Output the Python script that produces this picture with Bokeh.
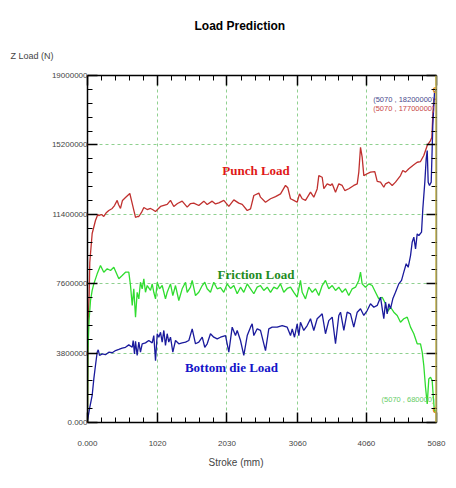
from bokeh.plotting import figure
from bokeh.models import Range1d, FixedTicker, LinearAxis, Label, Span, Title
from bokeh.embed import file_html
from bokeh.resources import INLINE

# Stroke positions (mm) and loads (N, in millions) for each load curve
punch_x = [0, 10, 25, 33, 68, 116, 150, 164, 204, 237, 277, 310, 360, 393, 432, 451, 480, 509,
           553, 616, 640, 699, 728, 747, 786, 820, 869, 917, 946, 990, 1063, 1160, 1208, 1256,
           1310, 1378, 1451, 1500, 1547, 1620, 1693, 1742, 1815, 1863, 1911, 1984, 2057, 2130,
           2202, 2252, 2325, 2373, 2421, 2494, 2518, 2591, 2664, 2737, 2810, 2882, 2916, 2955,
           3003, 3052, 3086, 3125, 3173, 3246, 3294, 3343, 3367, 3416, 3440, 3489, 3537, 3562,
           3610, 3658, 3707, 3745, 3803, 3876, 3926, 3949, 3974, 3998, 4022, 4071, 4119, 4182,
           4217, 4265, 4313, 4338, 4386, 4435, 4483, 4556, 4589, 4629, 4677, 4750, 4799, 4847,
           4895, 4945, 4993, 5012, 5026, 5041, 5070]
punch_m = [0, 5.58, 7.06, 8.76, 10.35, 11.06, 11.39, 11.33, 11.39, 11.28, 11.50, 11.61, 11.72,
           11.88, 12.16, 11.94, 11.72, 12.16, 12.32, 12.54, 12.16, 11.23, 11.28, 11.28, 11.50,
           11.77, 11.66, 11.72, 11.66, 11.55, 11.83, 11.94, 12.16, 11.83, 11.99, 12.12, 11.79,
           11.99, 12.01, 11.88, 12.12, 11.94, 12.12, 11.97, 12.03, 12.16, 11.83, 12.19, 12.01,
           11.94, 11.61, 11.70, 12.43, 12.56, 12.34, 12.06, 12.25, 12.37, 12.52, 12.98, 12.85,
           12.25, 12.16, 12.06, 12.52, 12.25, 12.16, 12.61, 12.34, 12.79, 13.52, 13.43, 12.80,
           13.07, 12.98, 13.07, 12.61, 13.07, 12.98, 12.70, 12.80, 12.98, 13.07, 13.71, 15.07,
           14.53, 13.52, 13.62, 13.71, 13.74, 13.20, 13.16, 12.88, 13.07, 13.16, 12.98, 13.16,
           13.52, 13.80, 13.71, 13.89, 14.11, 14.25, 14.29, 14.62, 15.17, 15.44, 15.61, 16.80,
           17.70, 17.70]

friction_x = [0, 7, 22, 44, 68, 92, 141, 189, 237, 287, 335, 383, 456, 505, 553, 601, 626, 651,
              674, 699, 723, 747, 771, 796, 820, 844, 869, 917, 942, 965, 990, 1015, 1048, 1087,
              1135, 1160, 1208, 1242, 1281, 1329, 1378, 1427, 1451, 1499, 1524, 1572, 1620,
              1670, 1707, 1742, 1790, 1838, 1888, 1936, 1984, 2033, 2082, 2130, 2179, 2227,
              2275, 2325, 2373, 2421, 2470, 2518, 2566, 2616, 2664, 2712, 2761, 2809, 2857,
              2907, 2955, 3003, 3052, 3100, 3125, 3173, 3221, 3271, 3319, 3367, 3416, 3464,
              3512, 3562, 3610, 3658, 3707, 3756, 3803, 3853, 3901, 3949, 3974, 3998, 4046,
              4095, 4144, 4192, 4240, 4290, 4338, 4362, 4411, 4459, 4508, 4556, 4604, 4654,
              4702, 4750, 4799, 4847, 4872, 4895, 4920, 4945, 4968, 4993, 5017, 5032, 5051, 5070]
friction_m = [0, 3.94, 5.58, 6.68, 7.23, 7.59, 8.14, 8.60, 8.23, 8.42, 8.32, 8.50, 7.87, 8.05,
              8.23, 8.23, 7.50, 6.41, 7.32, 5.77, 7.13, 6.77, 7.68, 7.32, 7.87, 7.13, 7.50,
              7.23, 7.59, 7.13, 6.77, 7.68, 7.32, 7.50, 6.77, 7.13, 7.59, 6.95, 7.50, 6.68,
              7.32, 7.68, 7.13, 7.41, 7.78, 6.95, 7.13, 7.50, 7.68, 7.32, 7.13, 7.68, 7.32,
              7.39, 7.13, 7.59, 7.34, 7.50, 7.05, 7.41, 7.13, 7.59, 7.32, 7.05, 7.41, 7.50,
              7.23, 7.41, 7.13, 7.41, 7.32, 7.59, 7.13, 7.34, 7.41, 7.13, 6.86, 7.78, 7.13,
              6.77, 7.41, 7.13, 7.32, 6.95, 7.50, 7.78, 7.32, 7.50, 7.23, 7.41, 7.13, 7.32,
              6.95, 7.32, 7.41, 7.78, 8.23, 7.59, 7.41, 7.59, 7.50, 7.13, 6.77, 6.86, 6.50,
              6.04, 6.31, 6.04, 5.86, 5.49, 5.68, 5.77, 5.22, 4.86, 4.31, 4.31, 3.85, 3.12,
              1.93, 1.02, 2.39, 2.48, 2.30, 1.48, 0.56, 0.68]

bottom_x = [0, 29, 68, 92, 116, 141, 156, 175, 214, 262, 310, 360, 408, 456, 505, 553, 601, 651,
            665, 684, 699, 723, 747, 771, 796, 844, 892, 942, 965, 990, 1015, 1038, 1063, 1087,
            1111, 1135, 1160, 1183, 1208, 1242, 1281, 1329, 1378, 1427, 1475, 1524, 1572, 1620,
            1670, 1707, 1742, 1790, 1838, 1888, 1936, 2009, 2057, 2106, 2154, 2179, 2227, 2275,
            2325, 2373, 2397, 2421, 2470, 2518, 2591, 2639, 2688, 2761, 2834, 2907, 2955, 2980,
            3013, 3052, 3076, 3100, 3148, 3198, 3246, 3294, 3343, 3392, 3416, 3464, 3512, 3562,
            3610, 3658, 3683, 3731, 3780, 3828, 3876, 3926, 3974, 4022, 4071, 4119, 4168, 4217,
            4265, 4290, 4313, 4338, 4362, 4386, 4411, 4444, 4483, 4531, 4571, 4604, 4639, 4668,
            4702, 4726, 4750, 4775, 4799, 4823, 4862, 4881, 4910, 4930, 4945, 4959, 4978, 5003,
            5017, 5026, 5041, 5051, 5070]
bottom_m = [0.1, 0.75, 1.48, 2.39, 3.12, 3.85, 3.98, 3.67, 3.76, 3.71, 3.85, 3.82, 3.94, 4.00,
            4.07, 4.12, 4.25, 4.12, 4.49, 3.76, 4.44, 3.67, 4.40, 3.85, 4.31, 4.36, 4.49, 4.36,
            4.76, 3.39, 4.86, 4.67, 4.94, 4.40, 5.04, 4.22, 4.86, 4.40, 4.67, 3.85, 4.49, 4.31,
            4.36, 4.40, 4.49, 5.13, 4.31, 4.40, 4.67, 4.12, 4.31, 4.86, 4.67, 4.58, 4.67, 4.76,
            3.85, 5.22, 4.76, 5.04, 4.49, 3.67, 4.76, 5.22, 5.40, 4.76, 5.13, 5.04, 3.94, 5.13,
            5.22, 5.22, 5.31, 5.22, 4.76, 5.13, 4.67, 5.40, 4.76, 5.49, 5.04, 5.31, 5.68, 5.04,
            5.68, 5.86, 5.95, 4.86, 5.58, 5.77, 4.31, 5.86, 6.04, 5.04, 6.04, 5.95, 5.22, 6.04,
            6.23, 5.86, 6.13, 6.50, 6.31, 6.41, 6.86, 6.23, 5.68, 6.59, 5.95, 6.50, 6.23, 6.77,
            7.13, 7.59, 7.78, 8.23, 8.69, 8.50, 9.14, 9.87, 10.15, 9.51, 10.33, 10.24, 10.42,
            11.70, 13.16, 14.44, 14.89, 13.16, 12.98, 13.16, 14.99, 16.26, 17.36, 18.09, 18.20]

# Cursor read-out at the end of the stroke
cursor_x = 5070
cursor_bottom = 18200000
cursor_punch = 17700000
cursor_friction = 680000

x_ticks = [0, 1020, 2030, 3060, 4060, 5080]
y_ticks = [0, 3800000, 7600000, 11400000, 15200000, 19000000]

M = 1e6
punch_y = [v * M for v in punch_m]
friction_y = [v * M for v in friction_m]
bottom_y = [v * M for v in bottom_m]


def minor_between(ticks, n=5):
    out = []
    for a, b in zip(ticks[:-1], ticks[1:]):
        step = (b - a) / n
        out += [a + step * k for k in range(1, n)]
    return out


p = figure(width=456, height=488, output_backend="svg", toolbar_location=None,
           x_range=Range1d(0, 5080), y_range=Range1d(0, 19000000),
           min_border_left=87, min_border_right=20, min_border_top=75, min_border_bottom=66)
p.background_fill_color = "white"
p.border_fill_color = "white"
p.outline_line_color = None

xt = FixedTicker(ticks=x_ticks, minor_ticks=minor_between(x_ticks))
yt = FixedTicker(ticks=y_ticks, minor_ticks=minor_between(y_ticks))

bottom_ax = p.below[0]
left_ax = p.left[0]
top_ax = LinearAxis()
right_ax = LinearAxis()
p.add_layout(top_ax, "above")
p.add_layout(right_ax, "right")

for ax in (bottom_ax, top_ax):
    ax.ticker = xt
for ax in (left_ax, right_ax):
    ax.ticker = yt

bottom_ax.major_label_overrides = {t: ("0.000" if t == 0 else str(t)) for t in x_ticks}
left_ax.major_label_overrides = {t: ("0.000" if t == 0 else str(t)) for t in y_ticks}
bottom_ax.major_label_standoff = 18
left_ax.major_label_standoff = 0
left_ax.major_label_text_baseline = "alphabetic"

for ax in (bottom_ax, left_ax, top_ax, right_ax):
    ax.axis_line_color = "black"
    ax.axis_line_width = 1.5
    ax.major_tick_in = 10
    ax.major_tick_out = 0
    ax.minor_tick_in = 5
    ax.minor_tick_out = 0
    ax.major_tick_line_color = "black"
    ax.minor_tick_line_color = "black"
    ax.major_tick_line_width = 1.5
    ax.major_label_text_font = "Liberation Sans"
    ax.major_label_text_font_size = "8px"
    ax.major_label_text_color = "#444444"
# frame-only axes on top and right: ticks, no labels
for ax in (top_ax, right_ax):
    ax.major_label_text_color = None
    ax.major_label_text_font_size = "0px"
    ax.major_label_standoff = 0
right_ax.axis_line_color = "#8e8e60"

for g in (p.xgrid[0], p.ygrid[0]):
    g.grid_line_color = "#8fd08f"
    g.grid_line_dash = "3 3"
    g.grid_line_width = 1
p.xgrid[0].ticker = xt
p.ygrid[0].ticker = yt

# cursor line at the end of the stroke
p.add_layout(Span(location=cursor_x, dimension="height", line_color="#c8b040", line_width=1))

p.line(punch_x, punch_y, line_color="#c0302e", line_width=1.3)
p.line(friction_x, friction_y, line_color="#2fdc2f", line_width=1.3)
p.line(bottom_x, bottom_y, line_color="#1a1a9c", line_width=1.3)

p.scatter([cursor_x, cursor_x], [cursor_bottom, cursor_friction], marker="circle", size=5,
          fill_color=None, line_color="#e89020", line_width=1.2)

serif = dict(text_font="Liberation Serif", text_font_style="bold", text_font_size="13px",
             text_align="center", text_baseline="middle")
p.add_layout(Label(x=2453, y=13800000, text="Punch Load", text_color="#e01818", **serif))
p.add_layout(Label(x=2453, y=8100000, text="Friction Load", text_color="#1f8c1f", **serif))
p.add_layout(Label(x=2096, y=3010000, text="Bottom die Load", text_color="#1414c8", **serif))

# cursor read-outs, right-aligned at the frame edge
small = dict(x_units="canvas", y_units="canvas", text_font="Liberation Sans",
             text_font_size="7.5px", text_align="right", text_baseline="middle")
p.add_layout(Label(x=434, y=99, text="(%d , %d)" % (cursor_x, cursor_bottom),
                   text_color="#4a4a8c", **small))
p.add_layout(Label(x=434, y=108, text="(%d , %d)" % (cursor_x, cursor_punch),
                   text_color="#c84848", **small))
p.add_layout(Label(x=434, y=399, text="(%d , %d)" % (cursor_x, cursor_friction),
                   text_color="#66cc66", **small))

# Title and axis captions as side-panel titles
p.add_layout(Title(text="Z Load (N)", align="left", offset=-77, standoff=29,
                   text_font="Liberation Sans", text_font_size="9px",
                   text_font_style="normal", text_color="#444444"), "above")
p.title.text = "Load Prediction"
p.title.align = "left"
p.title.offset = 107
p.title.standoff = 3
p.title.text_font = "Liberation Sans"
p.title.text_font_size = "12px"
p.title.text_font_style = "bold"
p.title.text_color = "black"
p.add_layout(Title(text="Stroke (mm)", align="left", offset=121, standoff=13,
                   text_font="Liberation Sans", text_font_size="10px",
                   text_font_style="normal", text_color="#444444"), "below")

open("out.html", "w").write(file_html(p, INLINE))
